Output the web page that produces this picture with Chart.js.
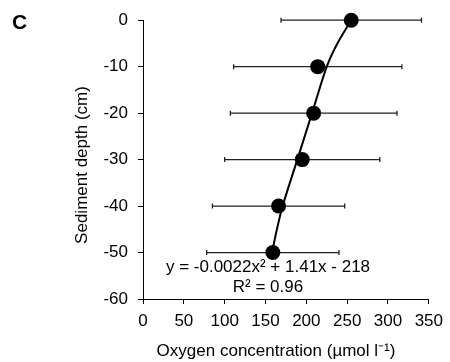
<!DOCTYPE html>
<html>
<head>
<meta charset="utf-8">
<script src="https://cdn.jsdelivr.net/npm/chart.js@4/dist/chart.umd.min.js"></script>
<style>
  html, body { margin: 0; padding: 0; background: #fff; }
  #wrap { width: 450px; height: 362px; position: relative; }
</style>
</head>
<body>
<div id="wrap"><canvas id="c"></canvas></div>
<script>
// ---- data ----
const depths   = [0, -10, -20, -30, -40, -50];          // sediment depth (cm)
const oxygen   = [255, 214, 209, 195, 166, 159];        // mean O2 (µmol l-1)
const oxygenSD = [86, 103, 102, 95, 81, 81];            // horizontal error (±)

// fitted trend curve
const curveX = [158, 164, 171, 189, 207, 225, 238, 255];
const curveY = [-50, -45, -40, -30, -20, -10, -5, 0];

const xTicks = [0, 50, 100, 150, 200, 250, 300, 350];
const yTicks = [0, -10, -20, -30, -40, -50, -60];

const panelLabel   = 'C';
const yTitle       = 'Sediment depth (cm)';
const xTitle       = 'Oxygen concentration (\u00B5mol l\u207B\u00B9)';
const equationText = 'y = -0.0022x\u00B2 + 1.41x - 218';
const r2Text       = 'R\u00B2 = 0.96';

const FONT = '"Liberation Sans", Arial, Helvetica, sans-serif';

const errorBars = {
  id: 'errorBars',
  beforeDatasetsDraw(chart) {
    const {ctx, scales: {x, y}} = chart;
    ctx.save();
    ctx.strokeStyle = '#222';
    ctx.lineWidth = 1.3;
    for (let i = 0; i < depths.length; i++) {
      const py = y.getPixelForValue(depths[i]);
      const x1 = x.getPixelForValue(oxygen[i] - oxygenSD[i]);
      const x2 = x.getPixelForValue(oxygen[i] + oxygenSD[i]);
      ctx.beginPath();
      ctx.moveTo(x1, py); ctx.lineTo(x2, py);
      ctx.moveTo(x1, py - 2.5); ctx.lineTo(x1, py + 2.5);
      ctx.moveTo(x2, py - 2.5); ctx.lineTo(x2, py + 2.5);
      ctx.stroke();
    }
    ctx.restore();
  }
};

const texts = {
  id: 'texts',
  afterDraw(chart) {
    const {ctx} = chart;
    ctx.save();
    ctx.fillStyle = '#000';
    ctx.textBaseline = 'alphabetic';
    ctx.textAlign = 'center';
    // panel label
    ctx.font = 'bold 21px ' + FONT;
    ctx.fillText(panelLabel, 19.5, 29);
    // equation
    ctx.font = '17px ' + FONT;
    ctx.fillText(equationText, 268, 272);
    ctx.fillText(r2Text, 268, 292);
    // x title
    ctx.fillText(xTitle, 276, 356);
    // y title
    ctx.translate(87, 165);
    ctx.rotate(-Math.PI / 2);
    ctx.fillText(yTitle, 0, 0);
    ctx.restore();
  }
};

new Chart(document.getElementById('c'), {
  type: 'scatter',
  data: {
    datasets: [
      {
        label: 'Oxygen',
        data: depths.map((d, i) => ({x: oxygen[i], y: d})),
        pointRadius: 7.5,
        pointHoverRadius: 7.5,
        pointBackgroundColor: '#000',
        pointBorderColor: '#000',
        pointBorderWidth: 0,
        showLine: false,
        clip: false,
        order: 0
      },
      {
        label: 'Fit',
        data: curveX.map((v, i) => ({x: v, y: curveY[i]})),
        showLine: true,
        borderColor: '#000',
        borderWidth: 2,
        pointRadius: 0,
        tension: 0.3,
        clip: false,
        order: 1
      }
    ]
  },
  options: {
    responsive: true,
    maintainAspectRatio: false,
    animation: false,
    devicePixelRatio: 1,
    layout: { padding: { top: 13, right: 18, bottom: 0, left: 0 } },
    plugins: { legend: { display: false }, tooltip: { enabled: false } },
    scales: {
      x: {
        type: 'linear',
        min: xTicks[0],
        max: xTicks[xTicks.length - 1],
        afterBuildTicks(s) { s.ticks = xTicks.map(v => ({value: v})); },
        afterFit(s) { s.height = 63; },
        grid: { display: true, drawOnChartArea: false, drawTicks: true, tickLength: 5, color: '#000' },
        border: { display: true, color: '#000', width: 1 },
        ticks: { color: '#000', padding: 7, font: { family: FONT, size: 17 }, maxRotation: 0 }
      },
      y: {
        type: 'linear',
        min: yTicks[yTicks.length - 1],
        max: yTicks[0],
        afterBuildTicks(s) { s.ticks = yTicks.slice().reverse().map(v => ({value: v})); },
        afterFit(s) { s.width = 143; },
        grid: { display: true, drawOnChartArea: false, drawTicks: true, tickLength: 5, color: '#000' },
        border: { display: true, color: '#000', width: 1 },
        ticks: { color: '#000', padding: 10, font: { family: FONT, size: 17 } }
      }
    }
  },
  plugins: [errorBars, texts]
});
</script>
</body>
</html>
